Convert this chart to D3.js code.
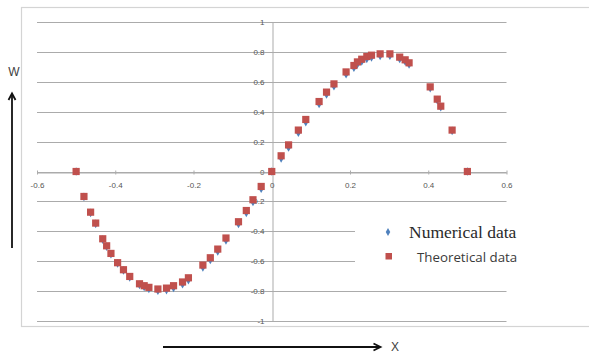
<!DOCTYPE html>
<html>
<head>
<meta charset="utf-8">
<script src="https://cdn.jsdelivr.net/npm/d3@7"></script>
<style>
  html, body { margin: 0; padding: 0; background: #fff; }
  svg { display: block; }
</style>
</head>
<body>
<div id="chart"></div>
<script>
// x positions shared by both series
const xs = [
  -0.5, -0.48, -0.463, -0.45, -0.432, -0.422, -0.411, -0.394, -0.379, -0.363,
  -0.338, -0.326, -0.314, -0.291, -0.269, -0.251, -0.228, -0.213, -0.176, -0.157,
  -0.138, -0.117, -0.085, -0.065, -0.048, -0.027, 0,
  0.024, 0.043, 0.068, 0.087, 0.121, 0.14, 0.159, 0.19, 0.21,
  0.219, 0.23, 0.243, 0.255, 0.277, 0.302, 0.327, 0.341, 0.351,
  0.405, 0.423, 0.432, 0.461, 0.5
]
const wTheoretical = [
  0, -0.167, -0.272, -0.345, -0.45, -0.497, -0.548, -0.61, -0.657, -0.702,
  -0.751, -0.764, -0.775, -0.786, -0.78, -0.764, -0.739, -0.711, -0.626, -0.577,
  -0.519, -0.445, -0.336, -0.261, -0.189, -0.1, 0,
  0.105, 0.178, 0.277, 0.348, 0.468, 0.531, 0.586, 0.666, 0.709,
  0.733, 0.751, 0.769, 0.778, 0.787, 0.787, 0.765, 0.747, 0.727,
  0.566, 0.484, 0.437, 0.277, 0
]
const wNumerical = [
  0, -0.17, -0.276, -0.35, -0.455, -0.502, -0.553, -0.615, -0.662, -0.708,
  -0.758, -0.772, -0.785, -0.797, -0.793, -0.778, -0.754, -0.726, -0.641, -0.592,
  -0.534, -0.46, -0.351, -0.276, -0.204, -0.115, 0,
  0.088, 0.161, 0.26, 0.331, 0.452, 0.515, 0.571, 0.651, 0.694,
  0.718, 0.736, 0.754, 0.764, 0.774, 0.775, 0.753, 0.736, 0.716,
  0.558, 0.477, 0.43, 0.272, 0
]
const xTicks = [-0.6, -0.4, -0.2, 0, 0.2, 0.4, 0.6]
const xTickLabels = ['-0.6', '-0.4', '-0.2', '0', '0.2', '0.4', '0.6']
const yTicks = [-1, -0.8, -0.6, -0.4, -0.2, 0, 0.2, 0.4, 0.6, 0.8, 1]
const yTickLabels = ['-1', '-0.8', '-0.6', '-0.4', '-0.2', '0', '0.2', '0.4', '0.6', '0.8', '1']
const seriesNames = ['Numerical data', 'Theoretical data']

const W = 589, H = 353
const RED = '#c0504d'
const BLUE = '#4f81bd'
const GRID = '#ababab'
const TICK_FONT = "'Liberation Sans', Arial, sans-serif"

const svg = d3.select('#chart').append('svg')
  .attr('width', W).attr('height', H)

svg.append('rect').attr('width', W).attr('height', H).attr('fill', '#fff')

// outer chart frame (runs off the right edge)
svg.append('rect')
  .attr('x', 21.5).attr('y', 7.5)
  .attr('width', 600).attr('height', 319)
  .attr('fill', 'none').attr('stroke', '#d4d4d4').attr('stroke-width', 1.2)

const x = d3.scaleLinear().domain([-0.6, 0.6]).range([37, 506.5])
const y = d3.scaleLinear().domain([-1, 1]).range([321, 22])

// horizontal gridlines
svg.append('g').selectAll('line')
  .data(yTicks)
  .join('line')
  .attr('x1', x(-0.6)).attr('x2', x(0.6))
  .attr('y1', d => Math.round(y(d)) + 0.5).attr('y2', d => Math.round(y(d)) + 0.5)
  .attr('stroke', GRID).attr('stroke-width', 1)

// y axis through x = 0
const yAxis = svg.append('g')
  .attr('transform', `translate(${Math.round(x(0)) + 0.5},0)`)
  .call(d3.axisLeft(y).tickValues(yTicks).tickSize(0).tickPadding(8)
    .tickFormat((d, i) => yTickLabels[i]))
yAxis.select('.domain').attr('stroke', GRID)
yAxis.selectAll('text')
  .attr('fill', '#555').attr('font-size', '8px').attr('font-family', TICK_FONT)

// x axis through w = 0
const xAxis = svg.append('g')
  .attr('transform', `translate(0,${Math.round(y(0)) + 0.5})`)
  .call(d3.axisBottom(x).tickValues(xTicks).tickSizeOuter(0)
    .tickFormat((d, i) => xTickLabels[i]))
xAxis.select('.domain').attr('stroke', GRID)
xAxis.selectAll('.tick line').attr('y1', -2).attr('y2', 2).attr('stroke', GRID)
xAxis.selectAll('text')
  .attr('y', 10)
  .attr('fill', '#555').attr('font-size', '8px').attr('font-family', TICK_FONT)

// legend box covers the gridlines behind it
const lg = svg.append('g')
lg.append('rect')
  .attr('x', 355).attr('y', 209).attr('width', 200).attr('height', 74)
  .attr('fill', '#fff')

// series: blue diamonds under red squares
const numerical = xs.map((v, i) => ({ x: v, w: wNumerical[i] }))
const theoretical = xs.map((v, i) => ({ x: v, w: wTheoretical[i] }))

const diamond = d3.symbol(d3.symbolDiamond, 22)

svg.append('g').selectAll('path')
  .data(numerical)
  .join('path')
  .attr('d', diamond)
  .attr('transform', d => `translate(${x(d.x)},${y(d.w)})`)
  .attr('fill', BLUE)

const S = 7.2
svg.append('g').selectAll('rect')
  .data(theoretical)
  .join('rect')
  .attr('x', d => x(d.x) - S / 2).attr('y', d => y(d.w) - S / 2)
  .attr('width', S).attr('height', S)
  .attr('fill', RED)

// legend entries
lg.append('path')
  .attr('d', d3.symbol(d3.symbolDiamond, 18))
  .attr('transform', 'translate(388,232)')
  .attr('fill', BLUE)
lg.append('text')
  .attr('x', 409).attr('y', 238)
  .attr('font-family', "'Liberation Serif', 'DejaVu Serif', serif")
  .attr('font-size', '17.5px').attr('fill', '#2a2a2a')
  .text(seriesNames[0])
lg.append('rect')
  .attr('x', 385.5).attr('y', 253).attr('width', 6.5).attr('height', 6.5)
  .attr('fill', RED)
lg.append('text')
  .attr('x', 417).attr('y', 262)
  .attr('font-family', "'Open Sans', 'Liberation Sans', sans-serif")
  .attr('font-size', '13.3px').attr('fill', '#3a3a3a')
  .text(seriesNames[1])

// axis labels with arrows
const arrows = svg.append('g').attr('stroke', '#111').attr('stroke-width', 1.8).attr('fill', 'none')
arrows.append('line').attr('x1', 12).attr('y1', 248).attr('x2', 12).attr('y2', 94)
arrows.append('path').attr('d', 'M8.5,100 L12,93.5 L15.5,100')
arrows.append('line').attr('x1', 163).attr('y1', 347).attr('x2', 380).attr('y2', 347)
arrows.append('path').attr('d', 'M373.5,343.5 L380.5,347 L373.5,350.5')

svg.append('text')
  .attr('x', 14).attr('y', 76)
  .attr('text-anchor', 'middle')
  .attr('font-family', TICK_FONT).attr('font-size', '12px').attr('fill', '#404040')
  .text('W')
svg.append('text')
  .attr('x', 395).attr('y', 351)
  .attr('text-anchor', 'middle')
  .attr('font-family', TICK_FONT).attr('font-size', '12px').attr('fill', '#404040')
  .text('X')
</script>
</body>
</html>
